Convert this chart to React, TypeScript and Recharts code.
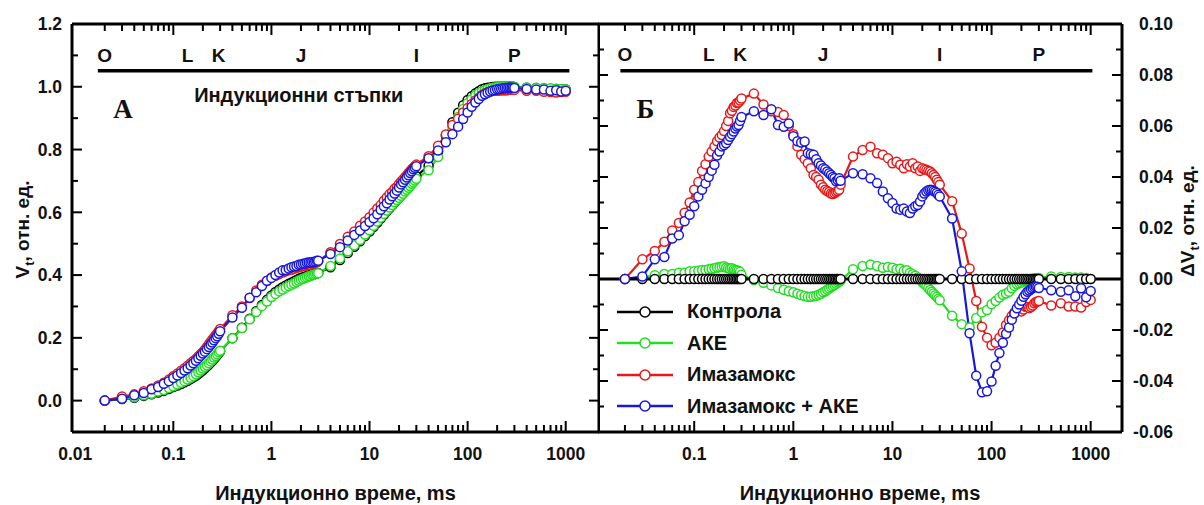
import React from "react";
import {
  LineChart,
  Line,
  XAxis,
  YAxis,
  ReferenceLine,
  ReferenceDot,
  Legend,
} from "recharts";

// Induction time, ms (PEA sampling grid)
const time = [
  0.02, 0.03, 0.04, 0.05, 0.06, 0.07, 0.08, 0.09, 0.1, 0.11, 0.12, 0.13, 0.14, 0.15, 0.16, 0.17, 0.18, 0.19, 0.2, 0.21, 0.22, 0.23, 0.24, 0.25, 0.26, 0.27, 0.28, 0.29, 0.3,
  0.4, 0.5, 0.6, 0.7, 0.8, 0.9, 1, 1.1, 1.2, 1.3, 1.4, 1.5, 1.6, 1.7, 1.8, 1.9, 2, 2.1, 2.2, 2.3, 2.4, 2.5, 2.6, 2.7, 2.8, 2.9, 3,
  4, 5, 6, 7, 8, 9, 10, 11, 12, 13, 14, 15, 16, 17, 18, 19, 20, 21, 22, 23, 24, 25, 26, 27, 28, 29, 30,
  40, 50, 60, 70, 80, 90, 100, 110, 120, 130, 140, 150, 160, 170, 180, 190, 200, 210, 220, 230, 240, 250, 260, 270, 280, 290, 300,
  400, 500, 600, 700, 800, 900, 1000,
];

// Vt, relative units (panel A)
const vControl = [
  0, 0.005, 0.009, 0.015, 0.02, 0.026, 0.031, 0.037, 0.043, 0.048, 0.053, 0.058, 0.063, 0.069, 0.074, 0.079, 0.085, 0.091, 0.097, 0.103, 0.109, 0.115, 0.121, 0.127, 0.133, 0.139, 0.145, 0.151, 0.157,
  0.199, 0.232, 0.261, 0.285, 0.305, 0.321, 0.335, 0.346, 0.354, 0.361, 0.367, 0.372, 0.376, 0.38, 0.384, 0.388, 0.391, 0.393, 0.395, 0.397, 0.399, 0.4, 0.402, 0.403, 0.404, 0.406, 0.407,
  0.425, 0.448, 0.47, 0.49, 0.508, 0.524, 0.539, 0.553, 0.567, 0.58, 0.592, 0.603, 0.613, 0.622, 0.631, 0.639, 0.647, 0.655, 0.662, 0.669, 0.676, 0.683, 0.69, 0.697, 0.703, 0.709, 0.715,
  0.748, 0.794, 0.844, 0.887, 0.917, 0.941, 0.958, 0.97, 0.979, 0.986, 0.992, 0.995, 0.997, 0.998, 0.999, 1, 1, 1, 1, 1, 1, 1, 1, 1, 1, 1, 0.999,
  0.997, 0.996, 0.995, 0.994, 0.993, 0.992, 0.992,
];
const vAke = [
  0, 0.006, 0.011, 0.017, 0.022, 0.029, 0.034, 0.04, 0.046, 0.051, 0.057, 0.062, 0.067, 0.073, 0.078, 0.084, 0.09, 0.096, 0.102, 0.108, 0.113, 0.119, 0.125, 0.131, 0.137, 0.142, 0.148, 0.154, 0.159,
  0.199, 0.231, 0.259, 0.282, 0.301, 0.316, 0.33, 0.34, 0.348, 0.354, 0.36, 0.365, 0.369, 0.373, 0.378, 0.382, 0.386, 0.388, 0.391, 0.393, 0.396, 0.397, 0.4, 0.401, 0.403, 0.405, 0.406,
  0.429, 0.453, 0.476, 0.495, 0.512, 0.529, 0.543, 0.557, 0.571, 0.583, 0.595, 0.606, 0.615, 0.623, 0.632, 0.639, 0.646, 0.653, 0.659, 0.666, 0.672, 0.678, 0.684, 0.691, 0.696, 0.701, 0.707,
  0.734, 0.776, 0.825, 0.872, 0.904, 0.929, 0.948, 0.961, 0.972, 0.98, 0.986, 0.99, 0.993, 0.995, 0.997, 0.998, 0.999, 0.999, 0.999, 1, 1, 1, 1, 1, 1, 1, 0.999,
  0.998, 0.997, 0.996, 0.995, 0.994, 0.992, 0.992,
];
const vIma = [
  0, 0.013, 0.02, 0.03, 0.039, 0.048, 0.057, 0.067, 0.078, 0.086, 0.095, 0.103, 0.111, 0.119, 0.126, 0.133, 0.141, 0.148, 0.155, 0.163, 0.171, 0.18, 0.187, 0.195, 0.201, 0.208, 0.214, 0.221, 0.228,
  0.272, 0.3, 0.327, 0.351, 0.369, 0.381, 0.392, 0.398, 0.403, 0.408, 0.412, 0.415, 0.417, 0.42, 0.423, 0.425, 0.427, 0.428, 0.43, 0.431, 0.433, 0.433, 0.436, 0.437, 0.439, 0.441, 0.444,
  0.473, 0.499, 0.522, 0.539, 0.557, 0.571, 0.584, 0.599, 0.612, 0.623, 0.637, 0.647, 0.658, 0.665, 0.675, 0.681, 0.69, 0.698, 0.705, 0.712, 0.718, 0.725, 0.731, 0.737, 0.742, 0.747, 0.752,
  0.779, 0.812, 0.848, 0.878, 0.898, 0.918, 0.932, 0.945, 0.956, 0.965, 0.974, 0.979, 0.983, 0.985, 0.987, 0.988, 0.987, 0.988, 0.989, 0.989, 0.989, 0.989, 0.99, 0.991, 0.991, 0.991, 0.99,
  0.987, 0.987, 0.984, 0.983, 0.982, 0.983, 0.984,
];
const vImaAke = [
  0, 0.006, 0.017, 0.024, 0.036, 0.043, 0.054, 0.062, 0.072, 0.08, 0.088, 0.096, 0.103, 0.112, 0.119, 0.127, 0.135, 0.143, 0.15, 0.156, 0.164, 0.171, 0.178, 0.185, 0.192, 0.199, 0.205, 0.213, 0.221,
  0.265, 0.296, 0.328, 0.345, 0.365, 0.382, 0.391, 0.4, 0.408, 0.415, 0.416, 0.421, 0.425, 0.427, 0.429, 0.433, 0.434, 0.436, 0.437, 0.439, 0.44, 0.44, 0.442, 0.441, 0.443, 0.446, 0.446,
  0.467, 0.489, 0.51, 0.528, 0.542, 0.556, 0.569, 0.581, 0.594, 0.608, 0.619, 0.629, 0.641, 0.651, 0.66, 0.669, 0.679, 0.689, 0.696, 0.704, 0.711, 0.718, 0.725, 0.731, 0.737, 0.742, 0.747,
  0.772, 0.797, 0.823, 0.849, 0.873, 0.897, 0.918, 0.936, 0.95, 0.961, 0.971, 0.976, 0.981, 0.985, 0.988, 0.99, 0.992, 0.993, 0.994, 0.995, 0.996, 0.996, 0.997, 0.997, 0.997, 0.997, 0.996,
  0.993, 0.991, 0.991, 0.987, 0.989, 0.985, 0.987,
];

// ΔVt vs control (panel Б)
const dControl = [
  0, 0, 0, 0, 0, 0, 0, 0, 0, 0, 0, 0, 0, 0, 0, 0, 0, 0, 0, 0, 0, 0, 0, 0, 0, 0, 0, 0, 0,
  0, 0, 0, 0, 0, 0, 0, 0, 0, 0, 0, 0, 0, 0, 0, 0, 0, 0, 0, 0, 0, 0, 0, 0, 0, 0, 0,
  0, 0, 0, 0, 0, 0, 0, 0, 0, 0, 0, 0, 0, 0, 0, 0, 0, 0, 0, 0, 0, 0, 0, 0, 0, 0, 0,
  0, 0, 0, 0, 0, 0, 0, 0, 0, 0, 0, 0, 0, 0, 0, 0, 0, 0, 0, 0, 0, 0, 0, 0, 0, 0, 0,
  0, 0, 0, 0, 0, 0, 0,
];
const dAke = [
  0, 0.0005, 0.0015, 0.002, 0.002, 0.0025, 0.0025, 0.003, 0.003, 0.0032, 0.0035, 0.0035, 0.0038, 0.004, 0.0042, 0.0045, 0.0046, 0.0048, 0.005, 0.0045, 0.0042, 0.004, 0.0042, 0.0038, 0.0035, 0.0034, 0.0032, 0.0028, 0.0017,
  -0.0004, -0.0015, -0.0025, -0.0035, -0.0042, -0.0048, -0.0052, -0.0058, -0.0063, -0.0067, -0.007, -0.007, -0.0068, -0.0066, -0.0062, -0.0058, -0.0052, -0.0048, -0.0042, -0.0037, -0.0032, -0.0028, -0.0024, -0.0019, -0.0014, -0.001, -0.0006,
  0.0038, 0.0051, 0.0057, 0.0051, 0.0044, 0.0047, 0.0044, 0.0038, 0.004, 0.0032, 0.0034, 0.0025, 0.0019, 0.0013, 0.0006, 0, -0.0013, -0.002, -0.0027, -0.0035, -0.0043, -0.005, -0.0057, -0.0064, -0.007, -0.0077, -0.0083,
  -0.0144, -0.0177, -0.019, -0.0153, -0.0131, -0.0122, -0.0099, -0.0086, -0.0073, -0.0062, -0.0057, -0.005, -0.0036, -0.0027, -0.0021, -0.0017, -0.0014, -0.0011, -0.0008, -0.0005, -0.0002, 0, 0, 0.0002, 0.0003, 0.0004, 0.0004,
  0.001, 0.0008, 0.0008, 0.0006, 0.0006, 0.0004, 0,
];
const dIma = [
  0, 0.0077, 0.011, 0.0146, 0.019, 0.022, 0.026, 0.03, 0.035, 0.038, 0.0424, 0.045, 0.048, 0.05, 0.052, 0.054, 0.0555, 0.0565, 0.058, 0.06, 0.062, 0.065, 0.066, 0.0675, 0.068, 0.069, 0.0692, 0.07, 0.0708,
  0.0727, 0.0684, 0.0658, 0.0655, 0.0643, 0.06, 0.0568, 0.052, 0.0487, 0.047, 0.0454, 0.0434, 0.0408, 0.04, 0.0389, 0.037, 0.036, 0.035, 0.0345, 0.0341, 0.0335, 0.0333, 0.0336, 0.0341, 0.0345, 0.035, 0.037,
  0.048, 0.0506, 0.0519, 0.0493, 0.0487, 0.0474, 0.0454, 0.046, 0.0448, 0.0434, 0.045, 0.0441, 0.0454, 0.0434, 0.0441, 0.0424, 0.0434, 0.043, 0.0428, 0.0425, 0.0422, 0.0415, 0.0408, 0.04, 0.0389, 0.038, 0.037,
  0.0305, 0.0178, 0.0041, -0.0086, -0.0187, -0.023, -0.026, -0.025, -0.023, -0.021, -0.018, -0.0162, -0.0144, -0.0131, -0.0125, -0.0118, -0.0127, -0.012, -0.0109, -0.011, -0.0114, -0.011, -0.0104, -0.0095, -0.009, -0.0088, -0.0086,
  -0.0104, -0.0095, -0.0108, -0.0108, -0.0112, -0.009, -0.0082,
];
const dImaAke = [
  0, 0.001, 0.0077, 0.0086, 0.0159, 0.0172, 0.0226, 0.0252, 0.0285, 0.0324, 0.035, 0.0375, 0.04, 0.0425, 0.0448, 0.0484, 0.05, 0.052, 0.0525, 0.0532, 0.0545, 0.0558, 0.0568, 0.0578, 0.059, 0.0598, 0.0604, 0.062, 0.0635,
  0.0658, 0.0643, 0.0666, 0.0604, 0.0597, 0.061, 0.056, 0.054, 0.0535, 0.0539, 0.0493, 0.049, 0.0487, 0.047, 0.0454, 0.0445, 0.0434, 0.043, 0.0422, 0.0415, 0.0408, 0.04, 0.0395, 0.0383, 0.0388, 0.0395, 0.0385,
  0.0415, 0.0411, 0.0395, 0.0376, 0.0343, 0.0317, 0.0298, 0.0276, 0.0272, 0.0276, 0.0265, 0.0259, 0.0276, 0.0285, 0.029, 0.0304, 0.0324, 0.0335, 0.0343, 0.0348, 0.035, 0.0349, 0.0346, 0.0342, 0.0337, 0.033, 0.0324,
  0.0237, 0.003, -0.0213, -0.0379, -0.0444, -0.044, -0.0402, -0.034, -0.029, -0.025, -0.0215, -0.019, -0.016, -0.0135, -0.0115, -0.01, -0.0085, -0.007, -0.006, -0.005, -0.0045, -0.004, -0.0035, -0.0032, -0.003, -0.003, -0.0035,
  -0.0044, -0.005, -0.0044, -0.0068, -0.0036, -0.0072, -0.0047,
];

const seriesNames = ["Контрола", "АКЕ", "Имазамокс", "Имазамокс + АКЕ"];
const seriesColors = ["#000000", "#22dd22", "#e81818", "#1818dc"];

const stageLetters = ["O", "L", "K", "J", "I", "P"];
const stageTimes = [0.02, 0.14, 0.29, 2, 30, 300];

const xTicks = [
  0.01, 0.02, 0.03, 0.04, 0.05, 0.06, 0.07, 0.08, 0.09,
  0.1, 0.2, 0.3, 0.4, 0.5, 0.6, 0.7, 0.8, 0.9,
  1, 2, 3, 4, 5, 6, 7, 8, 9,
  10, 20, 30, 40, 50, 60, 70, 80, 90,
  100, 200, 300, 400, 500, 600, 700, 800, 900, 1000,
];
const vTicks = [0, 0.1, 0.2, 0.3, 0.4, 0.5, 0.6, 0.7, 0.8, 0.9, 1, 1.1, 1.2];
const dTicks = [-0.06, -0.05, -0.04, -0.03, -0.02, -0.01, 0, 0.01, 0.02, 0.03, 0.04, 0.05, 0.06, 0.07, 0.08, 0.09, 0.1];

const rows = time.map((t, i) => ({
  t,
  c: vControl[i],
  a: vAke[i],
  m: vIma[i],
  ma: vImaAke[i],
  dc: dControl[i],
  da: dAke[i],
  dm: dIma[i],
  dma: dImaAke[i],
}));

const FONT = "'Liberation Sans', Arial, Helvetica, sans-serif";
const SERIF = "'Liberation Serif', 'Times New Roman', serif";

const leftX: [number, number] = [0.00927, 2185];
const rightX: [number, number] = [0.0107, 2070];
const leftY: [number, number] = [-0.1, 1.2];
const rightY: [number, number] = [-0.06, 0.1];

const isDecade = (v: number) =>
  Math.abs(Math.log10(v) - Math.round(Math.log10(v))) < 1e-6;

const xTickLabel = (p: any) => {
  const { x, y, payload } = p;
  const v = payload.value;
  if (!isDecade(v)) return <g />;
  return (
    <text x={x} y={y + 28} textAnchor="middle" fontFamily={FONT} fontWeight="bold" fontSize={17.5} fill="#111">
      {String(v)}
    </text>
  );
};

const yTickLabel = (step: number, digits: number, dx: number) => (p: any) => {
  const { x, y, payload } = p;
  const v = payload.value;
  if (Math.round(v / step) % 2 !== 0) return <g />;
  return (
    <text x={x + dx} y={y + 6.3} textAnchor="end" fontFamily={FONT} fontWeight="bold" fontSize={17.5} fill="#111">
      {v.toFixed(digits)}
    </text>
  );
};

// frame and inward tick marks, placed through the chart's own scales
function frameMarks(
  yId: string,
  xd: [number, number],
  yd: [number, number],
  ticksX: number[],
  ticksY: number[],
  yStep: number,
  pxPerY: number,
  pxPerDecade: number
) {
  const out: React.ReactNode[] = [];
  ticksX
    .filter((t) => t > xd[0] * 1.3 && t < xd[1])
    .forEach((t) => {
      const dy = (isDecade(t) ? 11 : 7) / pxPerY;
      out.push(
        <ReferenceLine key={`xb${t}`} xAxisId="b" yAxisId={yId} ifOverflow="visible"
          segment={[{ x: t, y: yd[0] }, { x: t, y: yd[0] + dy }]} stroke="#000" strokeWidth={2} />
      );
      out.push(
        <ReferenceLine key={`xt${t}`} xAxisId="b" yAxisId={yId} ifOverflow="visible"
          segment={[{ x: t, y: yd[1] }, { x: t, y: yd[1] - dy }]} stroke="#000" strokeWidth={2} />
      );
    });
  ticksY.forEach((v) => {
    const major = Math.round(v / yStep) % 2 === 0;
    const f = Math.pow(10, (major ? 10 : 6) / pxPerDecade);
    out.push(
      <ReferenceLine key={`yl${v}`} xAxisId="b" yAxisId={yId} ifOverflow="visible"
        segment={[{ x: xd[0], y: v }, { x: xd[0] * f, y: v }]} stroke="#000" strokeWidth={2} />
    );
    out.push(
      <ReferenceLine key={`yr${v}`} xAxisId="b" yAxisId={yId} ifOverflow="visible"
        segment={[{ x: xd[1] / f, y: v }, { x: xd[1], y: v }]} stroke="#000" strokeWidth={2} />
    );
  });
  out.push(<ReferenceLine key="fl" xAxisId="b" yAxisId={yId} ifOverflow="visible" x={xd[0]} stroke="#000" strokeWidth={3} />);
  out.push(<ReferenceLine key="fr" xAxisId="b" yAxisId={yId} ifOverflow="visible" x={xd[1]} stroke="#000" strokeWidth={3} />);
  out.push(<ReferenceLine key="fb" xAxisId="b" yAxisId={yId} ifOverflow="visible" y={yd[0]} stroke="#000" strokeWidth={3} />);
  out.push(<ReferenceLine key="ft" xAxisId="b" yAxisId={yId} ifOverflow="visible" y={yd[1]} stroke="#000" strokeWidth={3} />);
  return out;
}

const xTitle = (cx: number) => ({
  content: () => (
    <text x={cx} y={500} textAnchor="middle" fontFamily={FONT} fontWeight="bold" fontSize={20} fill="#111">
      Индукционно време, ms
    </text>
  ),
});

const yTitle = (cx: number, cy: number, prefix: string) => ({
  content: () => (
    <text x={cx} y={cy} transform={`rotate(-90 ${cx} ${cy})`} textAnchor="middle"
      fontFamily={FONT} fontWeight="bold" fontSize={19} fill="#111">
      {prefix}
      <tspan fontSize={13} dy={5}>t</tspan>
      <tspan dy={-5}>, отн. ед.</tspan>
    </text>
  ),
});

const textLabel = (value: string, size: number, family: string) => ({
  value,
  position: "center" as const,
  fontSize: size,
  fontWeight: "bold",
  fontFamily: family,
  fill: "#111",
});

const dotStyle = (color: string) => ({ r: 4.5, fill: "#fff", stroke: color, strokeWidth: 1.5 });

const LegendBox = () => (
  <div style={{ fontFamily: FONT, fontWeight: "bold", fontSize: 20, color: "#111" }}>
    {seriesNames.map((n, i) => (
      <div key={n} style={{ display: "flex", alignItems: "center", height: 31.5 }}>
        <svg width={56} height={14}>
          <line x1={0} x2={56} y1={7} y2={7} stroke={seriesColors[i]} strokeWidth={2.5} />
          <circle cx={28} cy={7} r={5} fill="#fff" stroke={seriesColors[i]} strokeWidth={1.5} />
        </svg>
        <span style={{ marginLeft: 14, whiteSpace: "nowrap" }}>{n}</span>
      </div>
    ))}
  </div>
);

export default function App() {
  const leftKeys = ["c", "a", "m", "ma"];
  const rightKeys = ["dc", "da", "dm", "dma"];
  const rightOrder = [1, 0, 2, 3];

  return (
    <div style={{ position: "absolute", left: 0, top: 0, width: 1204, height: 505, background: "#fff" }}>
      {/* Panel A */}
      <div style={{ position: "absolute", left: 0, top: 0 }}>
        <LineChart width={600} height={505} data={rows} margin={{ top: 24, right: 1, bottom: 0, left: 0 }}>
          <XAxis
            xAxisId="b"
            dataKey="t"
            type="number"
            scale="log"
            domain={leftX}
            allowDataOverflow
            ticks={xTicks}
            interval={0}
            tickSize={0}
            tickMargin={0}
            height={73}
            axisLine={false}
            tickLine={false}
            tick={xTickLabel}
            label={xTitle(335.5)}
          />
          <YAxis
            yAxisId="l"
            type="number"
            domain={leftY}
            ticks={vTicks}
            interval={0}
            tickSize={0}
            tickMargin={0}
            width={72}
            axisLine={false}
            tickLine={false}
            tick={yTickLabel(0.1, 1, -10)}
            label={yTitle(28.5, 229.5, "V")}
          />
          {leftKeys.map((k, i) => (
            <Line
              key={k}
              xAxisId="b"
              yAxisId="l"
              type="linear"
              dataKey={k}
              stroke={seriesColors[i]}
              strokeWidth={2.2}
              dot={dotStyle(seriesColors[i])}
              activeDot={false}
              isAnimationActive={false}
            />
          ))}
          {frameMarks("l", leftX, leftY, xTicks, vTicks, 0.1, 313.85, 98.1)}
          <ReferenceLine xAxisId="b" yAxisId="l" segment={[{ x: 0.017, y: 1.051 }, { x: 1090, y: 1.051 }]}
            stroke="#000" strokeWidth={3.5} />
          {stageLetters.map((s, i) => (
            <ReferenceDot key={s} xAxisId="b" yAxisId="l" x={stageTimes[i]} y={1.1} r={0}
              fill="none" stroke="none" label={textLabel(s, 19, FONT)} />
          ))}
          <ReferenceDot xAxisId="b" yAxisId="l" x={1.9} y={0.974} r={0} fill="none" stroke="none"
            label={textLabel("Индукционни стъпки", 20, FONT)} />
          <ReferenceDot xAxisId="b" yAxisId="l" x={0.0306} y={0.931} r={0} fill="none" stroke="none"
            label={textLabel("А", 27, SERIF)} />
        </LineChart>
      </div>

      {/* Panel Б */}
      <div style={{ position: "absolute", left: 598, top: 0 }}>
        <LineChart width={606} height={505} data={rows} margin={{ top: 24, right: 0, bottom: 0, left: 0 }}>
          <XAxis
            xAxisId="b"
            dataKey="t"
            type="number"
            scale="log"
            domain={rightX}
            allowDataOverflow
            ticks={xTicks.slice(1)}
            interval={0}
            tickSize={0}
            tickMargin={0}
            height={73}
            axisLine={false}
            tickLine={false}
            tick={xTickLabel}
            label={xTitle(262)}
          />
          <YAxis
            yAxisId="r"
            orientation="right"
            type="number"
            domain={rightY}
            ticks={dTicks}
            interval={0}
            tickSize={0}
            tickMargin={0}
            width={82}
            axisLine={false}
            tickLine={false}
            tick={yTickLabel(0.01, 2, 51)}
            label={yTitle(596, 221, "ΔV")}
          />
          {rightOrder.map((i) => (
            <Line
              key={rightKeys[i]}
              xAxisId="b"
              yAxisId="r"
              type="linear"
              dataKey={rightKeys[i]}
              stroke={seriesColors[i]}
              strokeWidth={2.2}
              dot={dotStyle(seriesColors[i])}
              activeDot={false}
              isAnimationActive={false}
            />
          ))}
          <ReferenceLine xAxisId="b" yAxisId="r" y={0} stroke="#000" strokeWidth={3} />
          {frameMarks("r", rightX, rightY, xTicks, dTicks, 0.01, 2550, 99.1)}
          <ReferenceLine xAxisId="b" yAxisId="r" segment={[{ x: 0.018, y: 0.0817 }, { x: 1040, y: 0.0817 }]}
            stroke="#000" strokeWidth={3.5} />
          {stageLetters.map((s, i) => (
            <ReferenceDot key={s} xAxisId="b" yAxisId="r" x={stageTimes[i]} y={0.088} r={0}
              fill="none" stroke="none" label={textLabel(s, 19, FONT)} />
          ))}
          <ReferenceDot xAxisId="b" yAxisId="r" x={0.0322} y={0.0669} r={0} fill="none" stroke="none"
            label={textLabel("Б", 27, SERIF)} />
          <Legend
            layout="horizontal"
            align="center"
            verticalAlign="middle"
            content={() => <LegendBox />}
            wrapperStyle={{ left: 19, top: 296, width: "auto" }}
          />
        </LineChart>
      </div>
    </div>
  );
}
